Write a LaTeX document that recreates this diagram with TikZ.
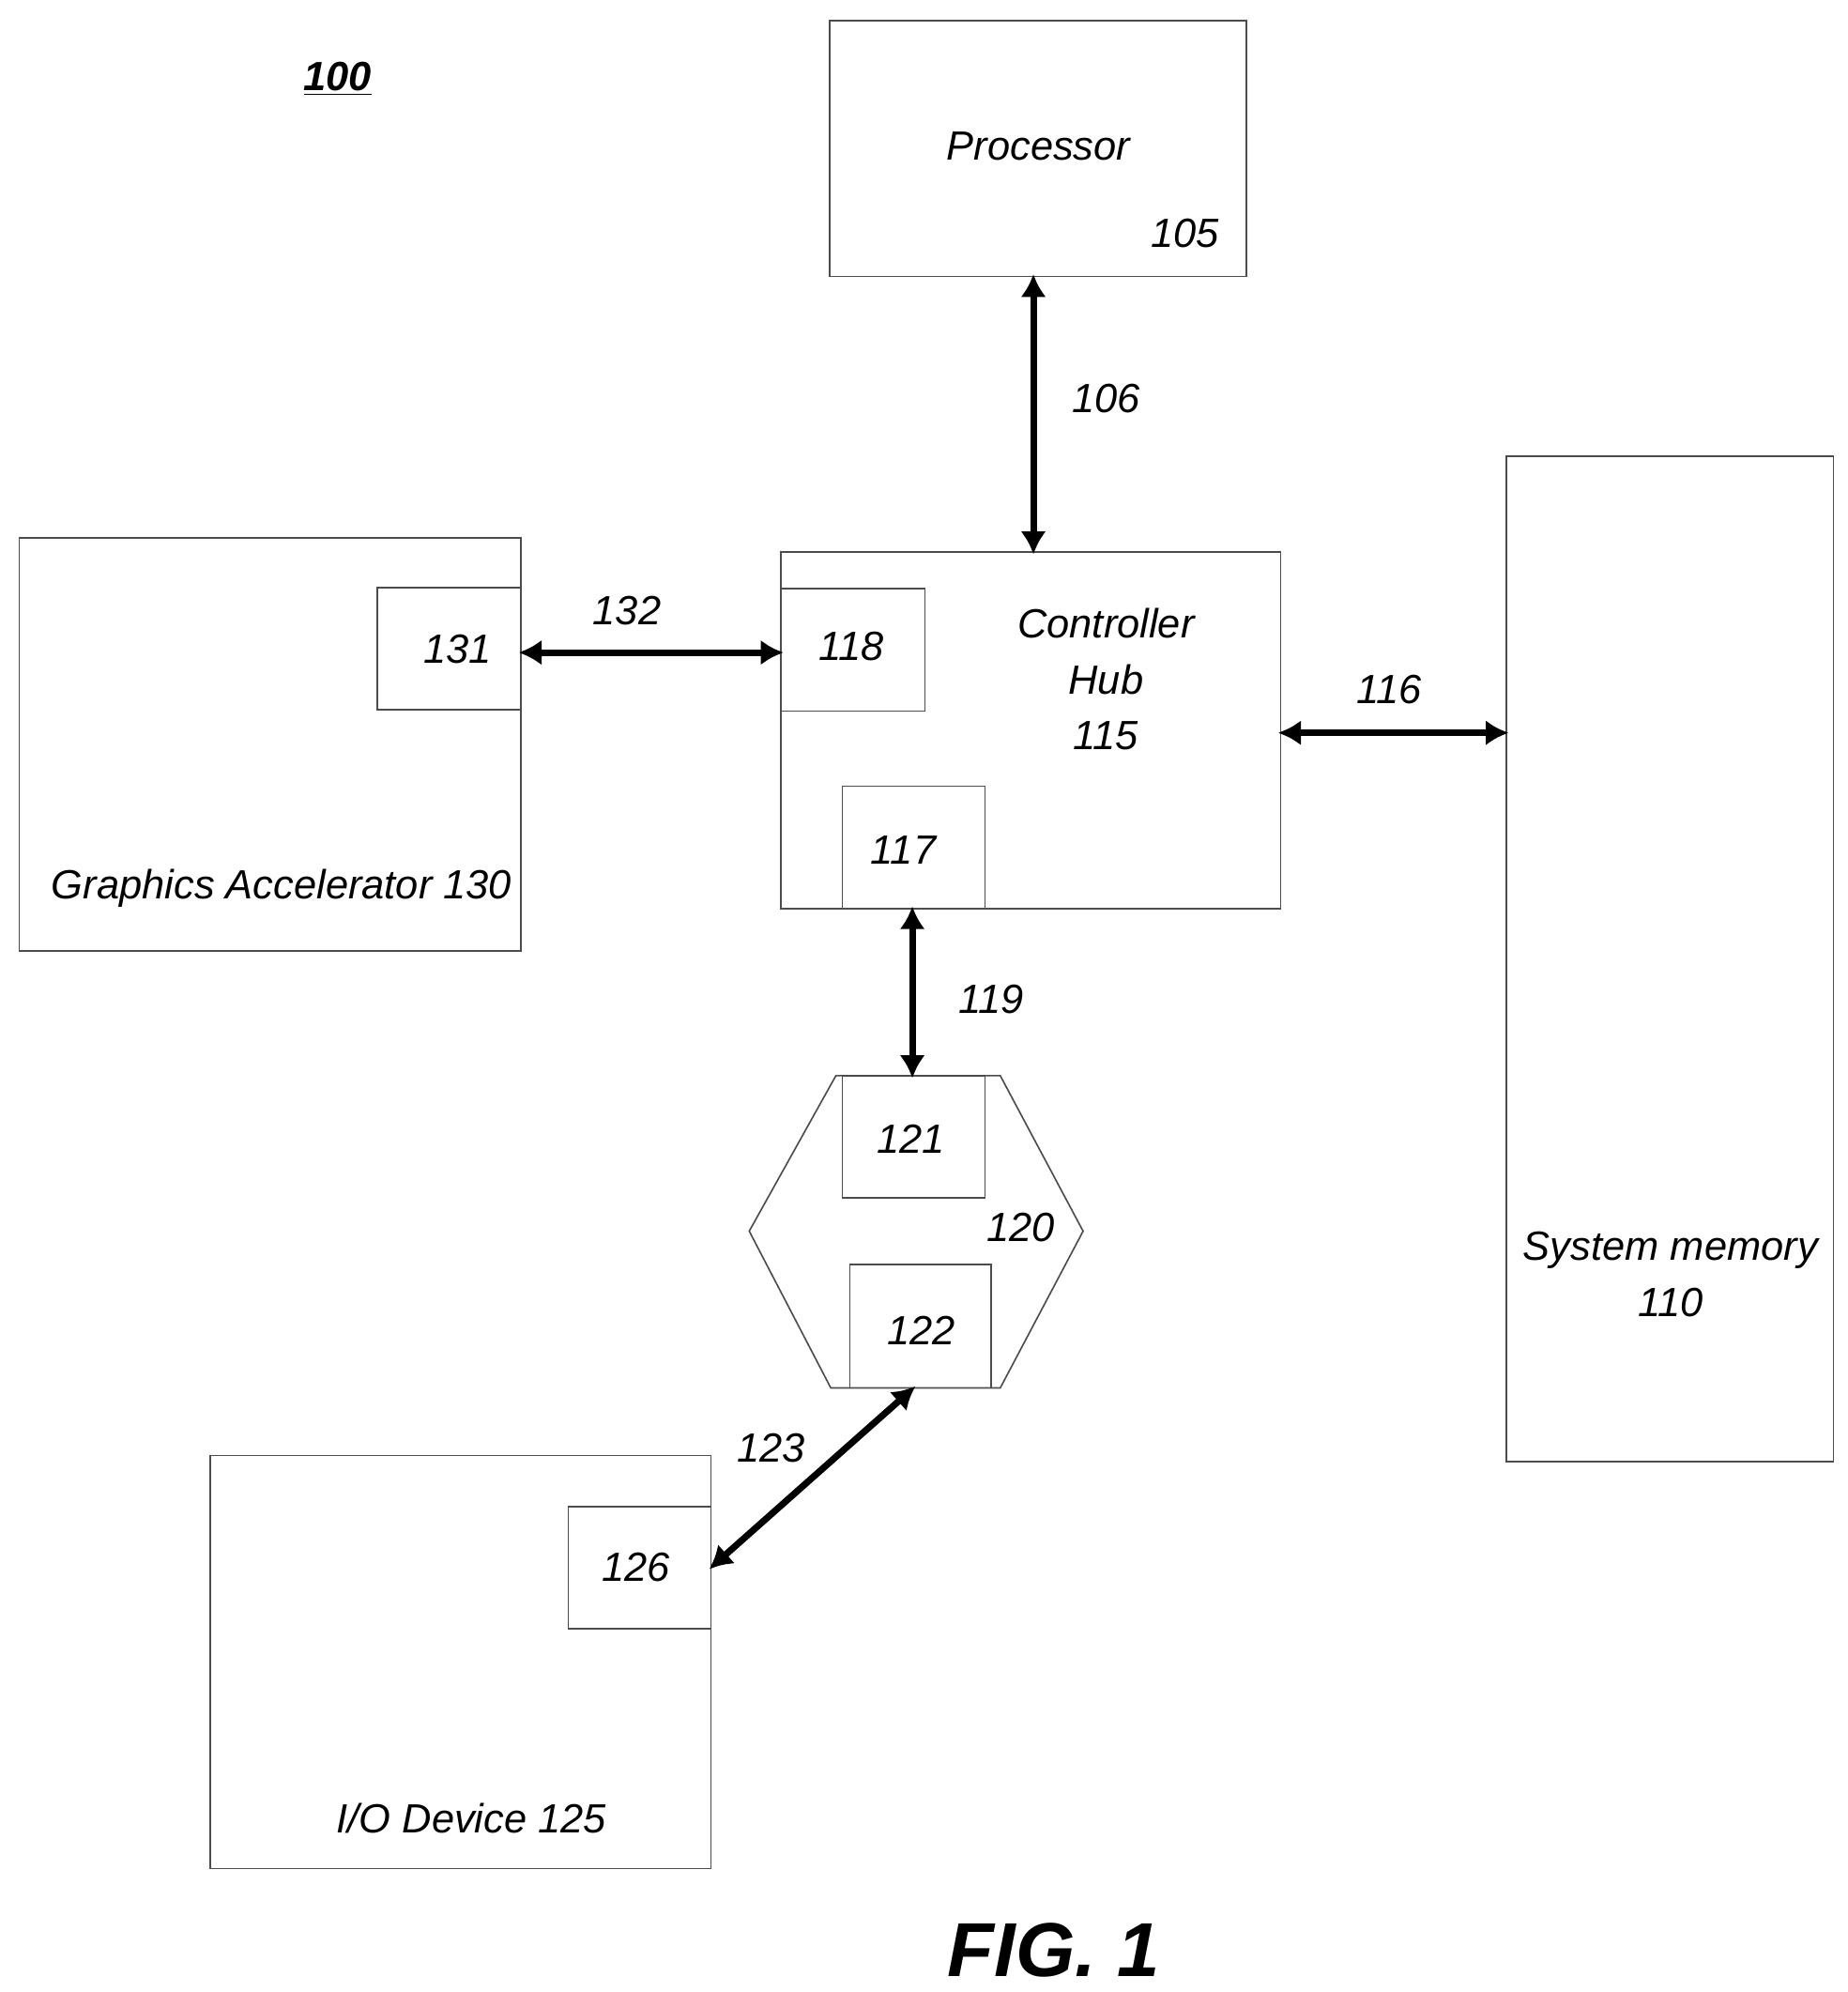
\documentclass[tikz,border=0pt]{standalone}
\usepackage{fontspec}
\setmainfont{Liberation Sans}
\usetikzlibrary{arrows.meta}
\begin{document}
\begin{tikzpicture}[x=0.5pt,y=-0.5pt,
  box/.style={draw=black!70,line width=0.6pt},
  lbl/.style={font=\fontsize{16}{19}\selectfont\itshape,align=center},
  bus/.style={line width=2.6pt,{Latex[length=9pt,width=10pt]}-{Latex[length=9pt,width=10pt]},shorten <=-1pt,shorten >=-1pt}]
\useasboundingbox (0,0) rectangle (1450,1563);
\node[font=\fontsize{16}{19}\selectfont\bfseries\itshape] (n100) at (265,62) {\underline{100}};
% processor
\draw[box] (651,16) rectangle (978,217);
\coordinate (procB) at (811,217);
\node[lbl] (proc) at (815,115) {Processor};
\node[lbl] (n105) at (930,183) {105};
% controller hub
\draw[box] (613,433) rectangle (1005,713);
\coordinate (hubT) at (811,433);
\node[lbl,font=\fontsize{16}{22}\selectfont\itshape] (hub) at (868,533) {Controller\\Hub\\115};
\draw[box] (613,462) rectangle (726,558);
\node[lbl] (n118) at (668,507) {118};
\draw[box] (661,617) rectangle (773,713);
\node[lbl] (n117) at (709,667) {117};
% system memory
\draw[box] (1182,358) rectangle (1439,1147);
\node[lbl,font=\fontsize{16}{22}\selectfont\itshape] (mem) at (1311,1000) {System memory\\110};
% graphics
\draw[box] (15,422) rectangle (409,746);
\node[lbl] (gfx) at (221,697) {Graphics Accelerator 130};
\draw[box] (296,461) rectangle (409,557);
\node[lbl] (n131) at (359,509) {131};
% hexagon
\draw[box] (656,844) -- (785,844) -- (850,966) -- (785,1089) -- (652,1089) -- (588,966) -- cycle;
\node[lbl] (n120) at (801,963) {120};
\draw[box] (661,844) rectangle (773,940);
\node[lbl] (n121) at (715,894) {121};
\draw[box] (667,992) rectangle (778,1089);
\node[lbl] (n122) at (723,1044) {122};
% IO
\draw[box] (165,1142) rectangle (558,1466);
\node[lbl] (io) at (370,1427) {I/O Device 125};
\draw[box] (446,1182) rectangle (558,1278);
\node[lbl] (n126) at (499,1230) {126};
% connection points
\coordinate (a1) at (409,512); \coordinate (a2) at (613,512);
\coordinate (b1) at (1005,575); \coordinate (b2) at (1182,575);
\coordinate (c1) at (716,713); \coordinate (c2) at (716,844);
\coordinate (d1) at (558,1230); \coordinate (d2) at (717,1089);
\draw[bus] (procB) -- (hubT);
\draw[bus] (a1) -- (a2);
\draw[bus] (b1) -- (b2);
\draw[bus] (c1) -- (c2);
\draw[bus] (d1) -- (d2);
\node[lbl] (n106) at (868,313) {106};
\node[lbl] (n132) at (492,479) {132};
\node[lbl] (n116) at (1090,541) {116};
\node[lbl] (n119) at (778,784) {119};
\node[lbl] (n123) at (605,1136) {123};
\node[font=\fontsize{30}{34}\selectfont\bfseries\itshape] (fig) at (827,1530) {FIG. 1};
\end{tikzpicture}
\end{document}
